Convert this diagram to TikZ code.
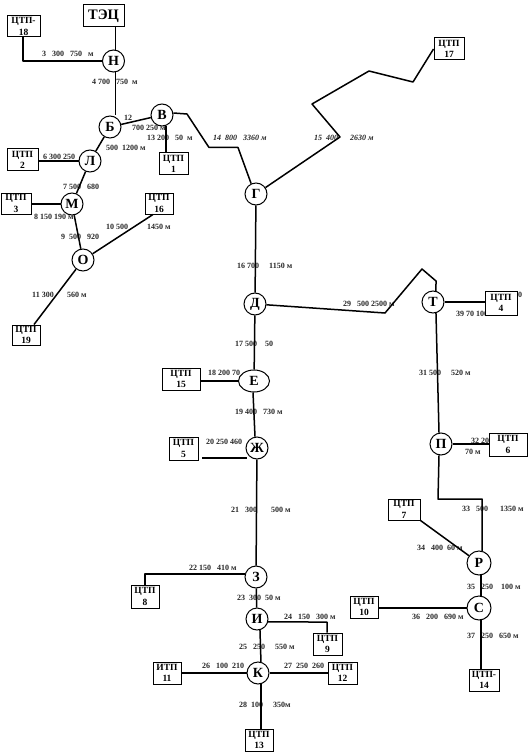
\documentclass[tikz,border=0pt]{standalone}
\usepackage{fontspec}
\setmainfont{Liberation Serif}
\usetikzlibrary{shapes.geometric}
\tikzset{
  lab/.style={anchor=west,inner sep=0pt,font=\fontsize{8}{9}\selectfont\bfseries,text=black!85},
  labi/.style={lab,font=\fontsize{8}{9}\selectfont\bfseries\itshape},
  hub/.style={circle,draw,fill=white,line width=1pt,inner sep=0pt,minimum size=22pt,font=\fontsize{14}{15}\selectfont\bfseries},
  hubell/.style={ellipse,draw,fill=white,line width=1pt,inner sep=0pt,minimum width=31pt,minimum height=22pt,font=\fontsize{14}{15}\selectfont\bfseries},
  tp/.style={rectangle,draw,fill=white,line width=1pt,inner sep=0pt,align=center,font=\fontsize{9.5}{11.5}\selectfont\bfseries},
  link/.style={line width=1.5pt,line join=round}
}
\newcommand{\bx}[6]{%
  \pgfmathsetmacro{\bxw}{#4-#2}\pgfmathsetmacro{\bxh}{#5-#3}%
  \pgfmathsetmacro{\bxx}{(#4+#2)/2}\pgfmathsetmacro{\bxy}{(#5+#3)/2}%
  \node[tp,minimum width=\bxw pt,minimum height=\bxh pt] (#1) at (\bxx,\bxy) {#6};}
\begin{document}
\begin{tikzpicture}[x=1pt,y=-1pt]
\useasboundingbox (0,0) rectangle (530,754);
% labels
\node[lab] (l3) at (42,54) {3\ \ \ 300\ \ \ 750\ \ \ м};
\node[lab] (l4) at (92,82) {4 700\ \ \ 750\ \ м};
\node[lab] (l12) at (124,118) {12};
\node[lab] (l12b) at (132,128) {700 250 м};
\node[lab] (l13) at (147,138) {13 200\ \ \ 50\ \ м};
\node[labi] (l14) at (213,138) {14\ \ 800\ \ \ 3360 м};
\node[lab] (l6) at (43,157) {6 300 250};
\node[lab] (l5) at (106,148) {500\ \ 1200 м};
\node[lab] (l7) at (63,187) {7 500\ \ \ 680};
\node[lab] (l8) at (34,217) {8 150 190 м};
\node[lab] (l9) at (61,237) {9\ \ 500\ \ \ 920};
\node[lab] (l10) at (106,227) {10 500};
\node[lab] (l10b) at (147,227) {1450 м};
\node[lab] (l11) at (32,295) {11 300};
\node[lab] (l11b) at (67,295) {560 м};
\node[labi] (l15) at (314,138) {15\ \ 400};
\node[labi] (l15b) at (350,138) {2630 м};
\node[lab] (l16) at (237,266) {16 700\ \ \ \ \ 1150 м};
\node[lab] (l17) at (235,344) {17 500\ \ \ \ 50};
\node[lab] (l18) at (208,373) {18 200 70};
\node[lab] (l19) at (235,412) {19 400\ \ \ 730 м};
\node[lab] (l20) at (206,442) {20 250 460};
\node[lab] (l21) at (231,510) {21\ \ \ 300\ \ \ \ \ \ \ 500 м};
\node[lab] (l22) at (189,568) {22 150\ \ \ 410 м};
\node[lab] (l23) at (237,598) {23\ \ 300\ \ 50 м};
\node[lab] (l24) at (284,617) {24\ \ \ 150\ \ \ 300 м};
\node[lab] (l25) at (239,647) {25\ \ \ 250\ \ \ \ \ 550 м};
\node[lab] (l26) at (202,666) {26\ \ \ 100\ \ 210};
\node[lab] (l27) at (284,666) {27\ \ 250\ \ 260};
\node[lab] (l28) at (239,705) {28\ \ 100\ \ \ \ \ 350м};
\node[lab] (l29) at (343,304) {29\ \ \ 500 2500 м};
\node[lab] (l39) at (456,314) {39 70 100 м};
\node[lab] (l30) at (518,295) {0};
\node[lab] (l31) at (419,373) {31 500\ \ \ \ \ 520 м};
\node[lab] (l32) at (471,441) {32 20};
\node[lab] (l32b) at (465,452) {70 м};
\node[lab] (l33) at (462,509) {33\ \ \ 500\ \ \ \ \ \ 1350 м};
\node[lab] (l34) at (417,548) {34\ \ \ 400\ \ 60 м};
\node[lab] (l35) at (467,587) {35\ \ \ 250\ \ \ \ 100 м};
\node[lab] (l36) at (412,617) {36\ \ \ 200\ \ \ 690 м};
\node[lab] (l37) at (467,636) {37\ \ \ 250\ \ \ 650 м};
% hubs
\node[hub] (n) at (113.5,61) {Н};
\node[hub] (b) at (110,127) {Б};
\node[hub] (v) at (162,115) {В};
\node[hub] (ll) at (90,161) {Л};
\node[hub] (m) at (72,204) {М};
\node[hub] (o) at (83,260) {О};
\node[hub] (g) at (256,194) {Г};
\node[hub] (d) at (255,304) {Д};
\node[hubell] (e) at (254,381) {Е};
\node[hub] (zh) at (257,448) {Ж};
\node[hub] (z) at (256,577) {З};
\node[hub] (i) at (257,619) {И};
\node[hub] (k) at (258,673) {К};
\node[hub] (t) at (433,302) {Т};
\node[hub] (p) at (441,444) {П};
\node[hub,minimum size=24pt] (r) at (479,563) {Р};
\node[hub,minimum size=24pt] (s) at (479,608) {С};
% boxes
\bx{tec}{83}{5}{124}{27}{\fontsize{14.5}{15}\selectfont ТЭЦ}
\bx{c18}{7}{16}{40}{37}{ЦТП-\\18}
\bx{c2}{7}{149}{38}{171}{ЦТП\\2}
\bx{c1}{159}{153}{188}{175}{ЦТП\\1}
\bx{c3}{1}{193}{31}{214}{ЦТП\\3}
\bx{c16}{145}{193}{173}{214}{ЦТП\\16}
\bx{c19}{12}{325}{40}{345}{ЦТП\\19}
\bx{c17}{434}{38}{464}{60}{ЦТП\\17}
\bx{c4}{485}{291}{517}{315}{ЦТП\\4}
\bx{c6}{489}{433}{527}{456}{ЦТП\\6}
\bx{c7}{388}{499}{420}{520}{ЦТП\\7}
\bx{c10}{350}{596}{378}{618}{ЦТП\\10}
\bx{c9}{313}{633}{342}{655}{ЦТП\\9}
\bx{c12}{328}{662}{357}{684}{ЦТП\\12}
\bx{c14}{469}{669}{499}{691}{ЦТП-\\14}
\bx{c15}{162}{368}{200}{390}{ЦТП\\15}
\bx{c5}{169}{437}{198}{460}{ЦТП\\5}
\bx{c8}{131}{585}{159}{608}{ЦТП\\8}
\bx{c11}{153}{662}{181}{684}{ИТП\\11}
\bx{c13}{245}{729}{273}{751}{ЦТП\\13}
% free ends
\coordinate (f5) at (202,458);
\coordinate (fzh) at (247,458);
% connectors
\draw[link] (tec.south -| n.80) -- (n.80);
\draw[link] (c18.south -| 23,0) -- (23,61) -- (n.west);
\draw[link] (n.-80) -- (b.north -| n.-80);
\draw[link] (b) -- (v);
\draw[link] (b) -- (ll);
\draw[link] (v.south -| 166,0) -- (c1.north -| 166,0);
\draw[link] (v.10) -- (187,114) -- (209,147.5) -- (238,147.5) -- (g.115);
\draw[link] (c2.east |- ll.west) -- (ll.west);
\draw[link] (ll) -- (m);
\draw[link] (c3.east |- m.west) -- (m.west);
\draw[link] (m) -- (o);
\draw[link] (o) -- (c16.south -| 153,0);
\draw[link] (o) -- (c19.north -| 34,0);
\draw[link] (g) -- (d);
\draw[link] (g) -- (340,137) -- (312,104) -- (369,71) -- (413,82) -- (c17.west);
\draw[link] (d) -- (385,313) -- (422,269) -- (436,281) -- (t.75);
\draw[link] (t.east) -- (c4.west |- t.east);
\draw[link] (t.-75) -- (p.100);
\draw[link] (p.east) -- (c6.west |- p.east);
\draw[link] (p.-100) -- (438,499) -- (482,499) -- (r.75);
\draw[link] (c7.south east) -- (r);
\draw[link] (r.-80) -- (s.80);
\draw[link] (c10.east |- s.west) -- (s.west);
\draw[link] (s.-80) -- (c14.north -| s.-80);
\draw[link] (d) -- (e);
\draw[link] (c15.east |- e.west) -- (e.west);
\draw[link] (e.-95) -- (zh.100);
\draw[link] (f5) -- (fzh);
\draw[link] (zh) -- (z);
\draw[link] (c8.north -| 145,0) -- (145,574) -- (z.west |- 0,574);
\draw[link] (z) -- (i);
\draw[link] (i.-15) -- (327,622) -- (c9.north -| 327,0);
\draw[link] (i.-75) -- (k.75);
\draw[link] (c11.east |- k.west) -- (k.west);
\draw[link] (k.east) -- (c12.west |- k.east);
\draw[link] (k.-75) -- (c13.north -| k.-75);
\end{tikzpicture}
\end{document}
